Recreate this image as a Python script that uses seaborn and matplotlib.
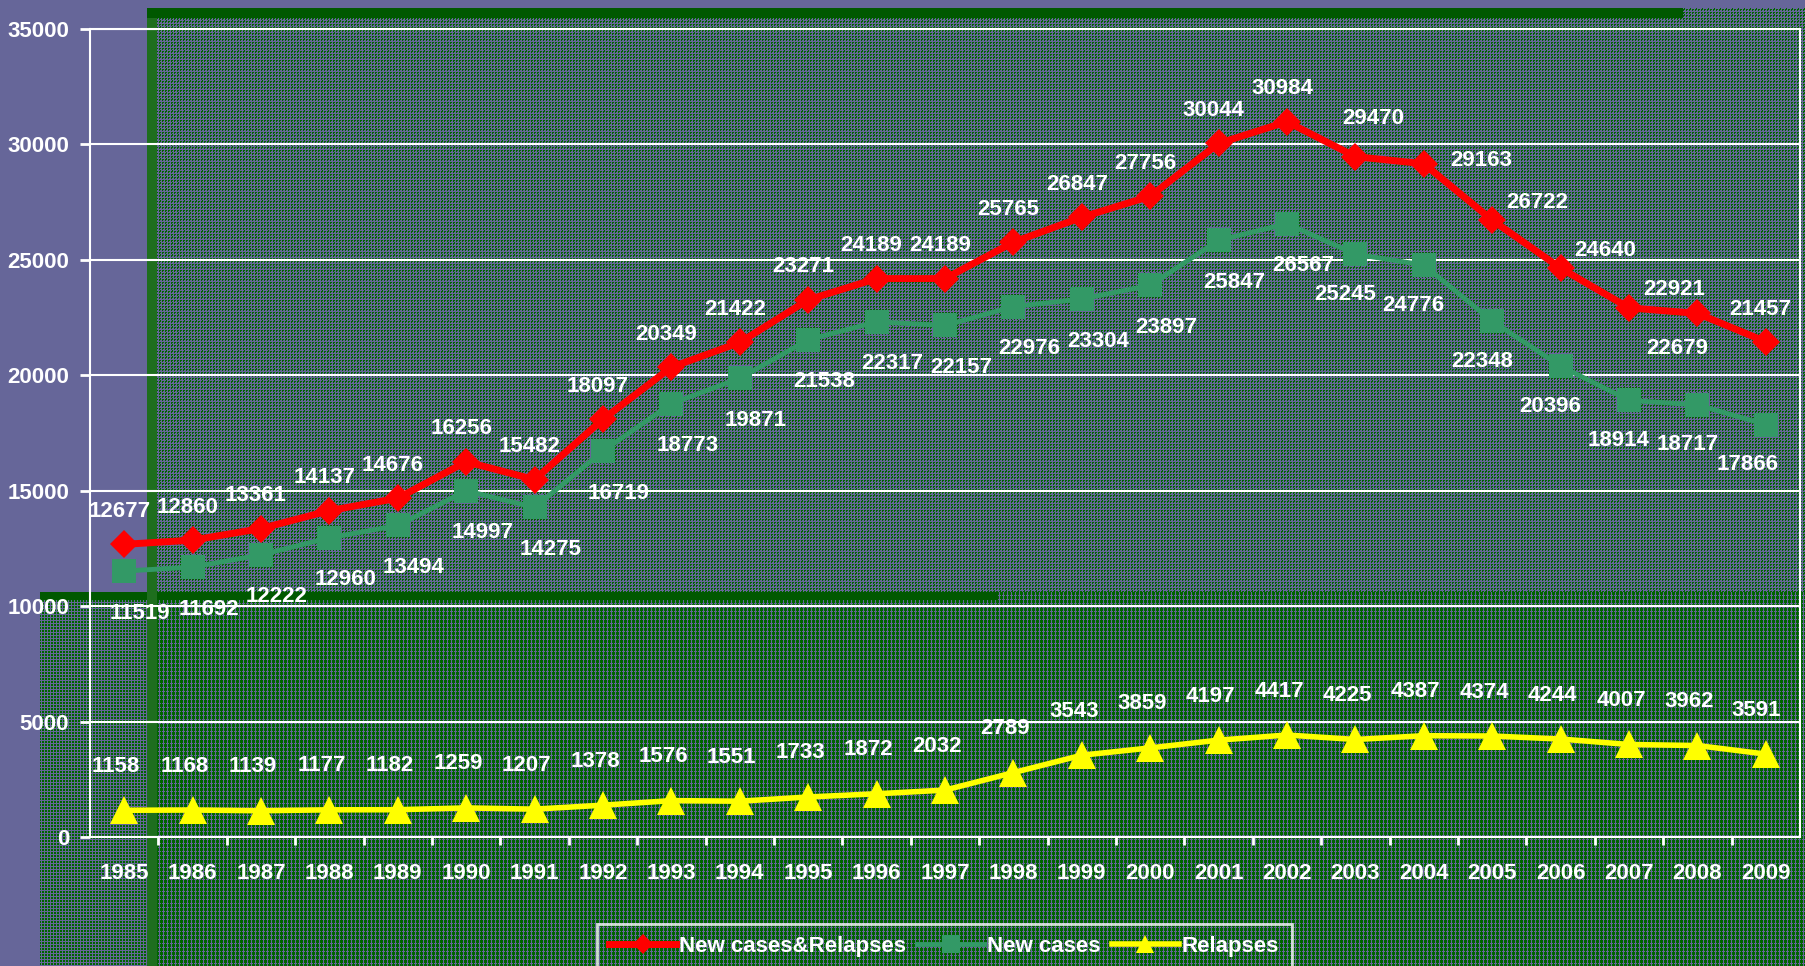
import numpy as np
import pandas as pd
import matplotlib
matplotlib.use("Agg")
import matplotlib.pyplot as plt
import seaborn as sns

# ---- data -------------------------------------------------------------
years = list(range(1985, 2010))
new_and_relapses = [12677, 12860, 13361, 14137, 14676, 16256, 15482, 18097, 20349, 21422,
                    23271, 24189, 24189, 25765, 26847, 27756, 30044, 30984, 29470, 29163,
                    26722, 24640, 22921, 22679, 21457]
new_cases = [11519, 11692, 12222, 12960, 13494, 14997, 14275, 16719, 18773, 19871,
             21538, 22317, 22157, 22976, 23304, 23897, 25847, 26567, 25245, 24776,
             22348, 20396, 18914, 18717, 17866]
relapses = [1158, 1168, 1139, 1177, 1182, 1259, 1207, 1378, 1576, 1551,
            1733, 1872, 2032, 2789, 3543, 3859, 4197, 4417, 4225, 4387,
            4374, 4244, 4007, 3962, 3591]
series_names = ["New cases&Relapses", "New cases", "Relapses"]
y_ticks = [0, 5000, 10000, 15000, 20000, 25000, 30000, 35000]

df = pd.DataFrame({
    "year": years * 3,
    "cases": new_and_relapses + new_cases + relapses,
    "series": np.repeat(series_names, len(years)),
})

plt.rcParams["font.family"] = ["Liberation Sans", "DejaVu Sans"]
plt.rcParams["font.weight"] = "bold"

W, H = 1805, 966
fig = plt.figure(figsize=(W / 100, H / 100), dpi=100)

# ---- background: purple slide with two dotted green panels -------------
purple = np.array([102, 102, 153], dtype=np.uint8)
green = np.array([0, 100, 0], dtype=np.uint8)
bg = np.empty((H, W, 3), dtype=np.uint8)
bg[:] = purple
yy, xx = np.mgrid[0:H, 0:W]
upper_dots = (((xx % 3 < 2) & (yy % 3 == 0)) | ((xx % 3 == 0) & (yy % 3 == 1))
              | ((xx % 6 == 4) & (yy % 6 == 2)))
lower_purple = (xx % 4 == 3) | ((yy % 4 == 3) & (xx % 2 == 0))
side_dots = (xx % 3 < 2) & (yy % 3 < 2)
upper = (xx >= 147) & (yy >= 8) & (yy < 592)
lower = (xx >= 157) & (yy >= 592)
side = (xx >= 40) & (xx < 147) & (yy >= 592)
bg[upper & upper_dots] = green
bg[lower & ~lower_purple] = green
bg[side & side_dots] = green
bg[8:18, 147:1683] = (0, 88, 0)
bg[592:600, 40:998] = (0, 88, 0)
bg[18:, 147:157] = (30, 110, 30)
fig.figimage(bg, xo=0, yo=0, origin="upper", zorder=-10)

# ---- chart -------------------------------------------------------------
ax = fig.add_axes([90 / W, 1 - 837 / H, (1800 - 90) / W, (837 - 29) / H])
ax.set_facecolor("none")

styles = {
    "New cases&Relapses": dict(color="#ff0000", marker="D", ms=14.5, lw=5.0, z=5),
    "New cases": dict(color="#339966", marker="s", ms=17.5, lw=3.5, z=4),
    "Relapses": dict(color="#ffff00", marker="^", ms=19.5, lw=4.0, z=4),
}
for name in series_names:
    st = styles[name]
    sns.lineplot(data=df[df["series"] == name], x="year", y="cases",
                 color=st["color"], marker=st["marker"], markersize=st["ms"],
                 markeredgewidth=0, linewidth=st["lw"], label=name,
                 ax=ax, zorder=st["z"])

# data labels, pixel offsets: (up to the peak, after the peak, last point)
label_offsets = {
    "New cases&Relapses": ((-5, 33), (45, 18), (-6, 32)),
    "New cases": ((16, -42), (-10, -40), (-18, -40)),
    "Relapses": ((-8, 44), (-8, 44), (-10, 44)),
}
label_nudges = {
    ("New cases&Relapses", 2003): (18, 38),
    ("New cases&Relapses", 2004): (57, 3),
    ("New cases&Relapses", 2008): (-20, -35),
}
for name in series_names:
    sub = df[df["series"] == name].reset_index(drop=True)
    peak = sub["cases"].idxmax()
    last = len(sub) - 1
    for i, row in sub.iterrows():
        k = 2 if i == last else (0 if i <= peak else 1)
        off = label_nudges.get((name, row["year"]), label_offsets[name][k])
        ax.annotate(str(row["cases"]), (row["year"], row["cases"]),
                    xytext=off, textcoords="offset pixels",
                    ha="center", va="center", fontsize=16, color="white", zorder=7)

ax.set_xlim(years[0] - 0.5, years[-1] + 0.5)
ax.set_xticks(years)
ax.set_xticklabels([str(y) for y in years])
ax.set_xticks(np.arange(years[0] + 0.5, years[-1], 1), minor=True)
ax.tick_params(axis="x", which="major", length=0, pad=19, labelsize=16, labelcolor="white")
ax.tick_params(axis="x", which="minor", length=6, width=2, color="white", direction="out")
ax.set_ylim(y_ticks[0], y_ticks[-1])
ax.set_yticks(y_ticks)
ax.set_yticklabels([str(v) for v in y_ticks])
ax.tick_params(axis="y", length=7, width=2, color="white", pad=8, labelsize=16, labelcolor="white")
ax.grid(axis="y", color="white", linewidth=1.5)
ax.grid(axis="x", visible=False)
ax.set_axisbelow(True)
for s in ax.spines.values():
    s.set_color("white")
    s.set_linewidth(1.5)
ax.set_xlabel("")
ax.set_ylabel("")

leg = ax.legend(loc="upper left", bbox_to_anchor=(597 / W, 1 - 924 / H),
                bbox_transform=fig.transFigure, ncol=3, frameon=True, fancybox=False,
                fontsize=16, handlelength=3.0, handletextpad=0.15, columnspacing=0.5,
                borderpad=0.55, borderaxespad=0, markerscale=0.7, labelcolor="white")
leg.get_frame().set_facecolor("none")
leg.get_frame().set_edgecolor("white")
leg.get_frame().set_linewidth(2)

fig.savefig("out.png", dpi=100)
